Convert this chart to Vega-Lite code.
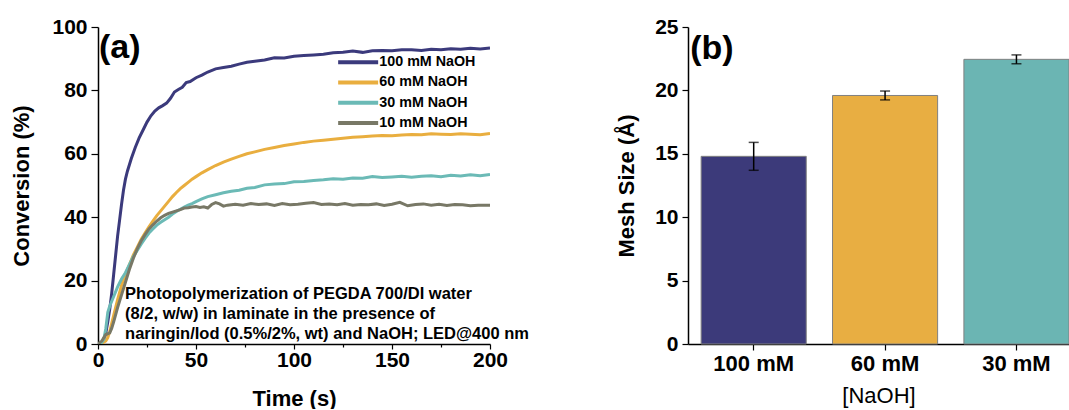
{
  "$schema": "https://vega.github.io/schema/vega-lite/v6.json",
  "background": "white",
  "padding": {"left": 10, "top": 16, "right": 0, "bottom": 0},
  "spacing": 86,
  "config": {
    "font": "Liberation Sans",
    "view": {"stroke": null},
    "axis": {
      "grid": false,
      "domainColor": "black",
      "domainWidth": 1.5,
      "tickColor": "black",
      "tickWidth": 1.2,
      "labelColor": "black",
      "titleColor": "black",
      "labelFont": "Liberation Sans",
      "titleFont": "Liberation Sans",
      "labelFontSize": 21,
      "labelFontWeight": "bold",
      "titleFontSize": 22,
      "titleFontWeight": "bold"
    }
  },
  "datasets": {
    "curves": [
      {"s":"100 mM NaOH","t":0,"v":0},{"s":"100 mM NaOH","t":2,"v":0.3},{"s":"100 mM NaOH","t":3,"v":1.5},{"s":"100 mM NaOH","t":4,"v":3.5},{"s":"100 mM NaOH","t":5,"v":7},{"s":"100 mM NaOH","t":6,"v":11},{"s":"100 mM NaOH","t":7,"v":16},{"s":"100 mM NaOH","t":8,"v":22},{"s":"100 mM NaOH","t":9,"v":28},{"s":"100 mM NaOH","t":10,"v":34},{"s":"100 mM NaOH","t":11,"v":39},{"s":"100 mM NaOH","t":12,"v":44},{"s":"100 mM NaOH","t":13,"v":48.5},{"s":"100 mM NaOH","t":14,"v":52},{"s":"100 mM NaOH","t":15,"v":54.5},{"s":"100 mM NaOH","t":17,"v":58.5},{"s":"100 mM NaOH","t":19,"v":62},{"s":"100 mM NaOH","t":21,"v":65},{"s":"100 mM NaOH","t":23,"v":67.5},{"s":"100 mM NaOH","t":25,"v":70},{"s":"100 mM NaOH","t":27,"v":72},{"s":"100 mM NaOH","t":29,"v":73.5},{"s":"100 mM NaOH","t":31,"v":74.5},{"s":"100 mM NaOH","t":33,"v":75.2},{"s":"100 mM NaOH","t":35,"v":76},{"s":"100 mM NaOH","t":37,"v":77.5},{"s":"100 mM NaOH","t":39,"v":79.5},{"s":"100 mM NaOH","t":41,"v":80.3},{"s":"100 mM NaOH","t":43,"v":81},{"s":"100 mM NaOH","t":45,"v":82.5},{"s":"100 mM NaOH","t":47,"v":82.8},{"s":"100 mM NaOH","t":50,"v":84},{"s":"100 mM NaOH","t":53,"v":84.8},{"s":"100 mM NaOH","t":56,"v":85.8},{"s":"100 mM NaOH","t":60,"v":86.8},{"s":"100 mM NaOH","t":64,"v":87.2},{"s":"100 mM NaOH","t":68,"v":87.6},{"s":"100 mM NaOH","t":72,"v":88.3},{"s":"100 mM NaOH","t":76,"v":88.9},{"s":"100 mM NaOH","t":80,"v":89.2},{"s":"100 mM NaOH","t":85,"v":89.6},{"s":"100 mM NaOH","t":90,"v":90.3},{"s":"100 mM NaOH","t":95,"v":90.2},{"s":"100 mM NaOH","t":100,"v":90.8},{"s":"100 mM NaOH","t":105,"v":91.0},{"s":"100 mM NaOH","t":110,"v":91.2},{"s":"100 mM NaOH","t":115,"v":91.4},{"s":"100 mM NaOH","t":120,"v":91.9},{"s":"100 mM NaOH","t":125,"v":92.0},{"s":"100 mM NaOH","t":130,"v":92.4},{"s":"100 mM NaOH","t":135,"v":92.0},{"s":"100 mM NaOH","t":140,"v":92.5},{"s":"100 mM NaOH","t":145,"v":92.6},{"s":"100 mM NaOH","t":150,"v":92.5},{"s":"100 mM NaOH","t":155,"v":92.8},{"s":"100 mM NaOH","t":160,"v":92.8},{"s":"100 mM NaOH","t":165,"v":92.6},{"s":"100 mM NaOH","t":170,"v":93.0},{"s":"100 mM NaOH","t":175,"v":92.8},{"s":"100 mM NaOH","t":180,"v":93.1},{"s":"100 mM NaOH","t":185,"v":93.0},{"s":"100 mM NaOH","t":190,"v":93.3},{"s":"100 mM NaOH","t":195,"v":93.1},{"s":"100 mM NaOH","t":200,"v":93.4},
      {"s":"60 mM NaOH","t":0,"v":0},{"s":"60 mM NaOH","t":2,"v":0.2},{"s":"60 mM NaOH","t":4,"v":1},{"s":"60 mM NaOH","t":5,"v":2},{"s":"60 mM NaOH","t":6,"v":4},{"s":"60 mM NaOH","t":7,"v":6.5},{"s":"60 mM NaOH","t":8,"v":9},{"s":"60 mM NaOH","t":10,"v":14},{"s":"60 mM NaOH","t":12,"v":18.5},{"s":"60 mM NaOH","t":14,"v":22},{"s":"60 mM NaOH","t":16,"v":25},{"s":"60 mM NaOH","t":18,"v":28},{"s":"60 mM NaOH","t":20,"v":30.5},{"s":"60 mM NaOH","t":22,"v":33},{"s":"60 mM NaOH","t":24,"v":35},{"s":"60 mM NaOH","t":26,"v":37},{"s":"60 mM NaOH","t":28,"v":38.8},{"s":"60 mM NaOH","t":30,"v":40.5},{"s":"60 mM NaOH","t":32,"v":42},{"s":"60 mM NaOH","t":34,"v":43.5},{"s":"60 mM NaOH","t":36,"v":45},{"s":"60 mM NaOH","t":38,"v":46.5},{"s":"60 mM NaOH","t":40,"v":47.8},{"s":"60 mM NaOH","t":42,"v":49},{"s":"60 mM NaOH","t":44,"v":50},{"s":"60 mM NaOH","t":46,"v":51},{"s":"60 mM NaOH","t":48,"v":52},{"s":"60 mM NaOH","t":50,"v":52.8},{"s":"60 mM NaOH","t":53,"v":54},{"s":"60 mM NaOH","t":56,"v":55},{"s":"60 mM NaOH","t":60,"v":56.3},{"s":"60 mM NaOH","t":64,"v":57.4},{"s":"60 mM NaOH","t":68,"v":58.3},{"s":"60 mM NaOH","t":72,"v":59.2},{"s":"60 mM NaOH","t":76,"v":60},{"s":"60 mM NaOH","t":80,"v":60.6},{"s":"60 mM NaOH","t":85,"v":61.4},{"s":"60 mM NaOH","t":90,"v":62},{"s":"60 mM NaOH","t":95,"v":62.6},{"s":"60 mM NaOH","t":100,"v":63.1},{"s":"60 mM NaOH","t":105,"v":63.6},{"s":"60 mM NaOH","t":110,"v":64},{"s":"60 mM NaOH","t":115,"v":64.3},{"s":"60 mM NaOH","t":120,"v":64.6},{"s":"60 mM NaOH","t":125,"v":64.9},{"s":"60 mM NaOH","t":130,"v":65.2},{"s":"60 mM NaOH","t":135,"v":65.4},{"s":"60 mM NaOH","t":140,"v":65.6},{"s":"60 mM NaOH","t":145,"v":65.8},{"s":"60 mM NaOH","t":150,"v":65.7},{"s":"60 mM NaOH","t":155,"v":65.9},{"s":"60 mM NaOH","t":160,"v":66.1},{"s":"60 mM NaOH","t":165,"v":66.0},{"s":"60 mM NaOH","t":170,"v":66.3},{"s":"60 mM NaOH","t":175,"v":66.2},{"s":"60 mM NaOH","t":180,"v":66.1},{"s":"60 mM NaOH","t":185,"v":66.3},{"s":"60 mM NaOH","t":190,"v":66.2},{"s":"60 mM NaOH","t":195,"v":66.0},{"s":"60 mM NaOH","t":200,"v":66.4},
      {"s":"30 mM NaOH","t":0,"v":0},{"s":"30 mM NaOH","t":2,"v":0.5},{"s":"30 mM NaOH","t":3,"v":1.5},{"s":"30 mM NaOH","t":4,"v":5},{"s":"30 mM NaOH","t":5,"v":10},{"s":"30 mM NaOH","t":6,"v":12},{"s":"30 mM NaOH","t":8,"v":15},{"s":"30 mM NaOH","t":10,"v":18},{"s":"30 mM NaOH","t":12,"v":20.5},{"s":"30 mM NaOH","t":14,"v":22.5},{"s":"30 mM NaOH","t":16,"v":25},{"s":"30 mM NaOH","t":18,"v":27.5},{"s":"30 mM NaOH","t":20,"v":29.5},{"s":"30 mM NaOH","t":22,"v":31.5},{"s":"30 mM NaOH","t":24,"v":33.3},{"s":"30 mM NaOH","t":26,"v":35},{"s":"30 mM NaOH","t":28,"v":36.3},{"s":"30 mM NaOH","t":30,"v":37.5},{"s":"30 mM NaOH","t":32,"v":38.4},{"s":"30 mM NaOH","t":34,"v":39.2},{"s":"30 mM NaOH","t":36,"v":40},{"s":"30 mM NaOH","t":38,"v":41},{"s":"30 mM NaOH","t":40,"v":41.8},{"s":"30 mM NaOH","t":42,"v":42.5},{"s":"30 mM NaOH","t":44,"v":43.2},{"s":"30 mM NaOH","t":46,"v":43.8},{"s":"30 mM NaOH","t":48,"v":44.3},{"s":"30 mM NaOH","t":50,"v":44.9},{"s":"30 mM NaOH","t":53,"v":45.8},{"s":"30 mM NaOH","t":56,"v":46.5},{"s":"30 mM NaOH","t":60,"v":47.1},{"s":"30 mM NaOH","t":64,"v":47.7},{"s":"30 mM NaOH","t":68,"v":48.2},{"s":"30 mM NaOH","t":72,"v":48.5},{"s":"30 mM NaOH","t":76,"v":49.1},{"s":"30 mM NaOH","t":80,"v":49.4},{"s":"30 mM NaOH","t":85,"v":50.2},{"s":"30 mM NaOH","t":90,"v":50.5},{"s":"30 mM NaOH","t":95,"v":50.6},{"s":"30 mM NaOH","t":100,"v":51.2},{"s":"30 mM NaOH","t":105,"v":51.3},{"s":"30 mM NaOH","t":110,"v":51.6},{"s":"30 mM NaOH","t":115,"v":51.8},{"s":"30 mM NaOH","t":120,"v":52.1},{"s":"30 mM NaOH","t":125,"v":52.0},{"s":"30 mM NaOH","t":130,"v":52.4},{"s":"30 mM NaOH","t":135,"v":52.3},{"s":"30 mM NaOH","t":140,"v":52.8},{"s":"30 mM NaOH","t":145,"v":52.5},{"s":"30 mM NaOH","t":150,"v":52.7},{"s":"30 mM NaOH","t":155,"v":52.9},{"s":"30 mM NaOH","t":160,"v":52.6},{"s":"30 mM NaOH","t":165,"v":52.9},{"s":"30 mM NaOH","t":170,"v":53.1},{"s":"30 mM NaOH","t":175,"v":52.8},{"s":"30 mM NaOH","t":180,"v":53.2},{"s":"30 mM NaOH","t":185,"v":53.0},{"s":"30 mM NaOH","t":190,"v":53.4},{"s":"30 mM NaOH","t":195,"v":53.1},{"s":"30 mM NaOH","t":200,"v":53.5},
      {"s":"10 mM NaOH","t":0,"v":0},{"s":"10 mM NaOH","t":2,"v":1},{"s":"10 mM NaOH","t":4,"v":3},{"s":"10 mM NaOH","t":6,"v":3.5},{"s":"10 mM NaOH","t":7,"v":5},{"s":"10 mM NaOH","t":8,"v":7},{"s":"10 mM NaOH","t":10,"v":11.5},{"s":"10 mM NaOH","t":12,"v":15.5},{"s":"10 mM NaOH","t":14,"v":19.5},{"s":"10 mM NaOH","t":16,"v":23.5},{"s":"10 mM NaOH","t":18,"v":27},{"s":"10 mM NaOH","t":20,"v":30},{"s":"10 mM NaOH","t":22,"v":32.5},{"s":"10 mM NaOH","t":24,"v":34.5},{"s":"10 mM NaOH","t":26,"v":36.3},{"s":"10 mM NaOH","t":28,"v":37.6},{"s":"10 mM NaOH","t":30,"v":38.8},{"s":"10 mM NaOH","t":32,"v":39.8},{"s":"10 mM NaOH","t":34,"v":40.6},{"s":"10 mM NaOH","t":36,"v":41.2},{"s":"10 mM NaOH","t":38,"v":41.6},{"s":"10 mM NaOH","t":40,"v":42},{"s":"10 mM NaOH","t":42,"v":42.4},{"s":"10 mM NaOH","t":44,"v":42.9},{"s":"10 mM NaOH","t":46,"v":43},{"s":"10 mM NaOH","t":48,"v":43.2},{"s":"10 mM NaOH","t":50,"v":43.4},{"s":"10 mM NaOH","t":52,"v":43.1},{"s":"10 mM NaOH","t":54,"v":43.3},{"s":"10 mM NaOH","t":56,"v":42.9},{"s":"10 mM NaOH","t":58,"v":44},{"s":"10 mM NaOH","t":60,"v":44.6},{"s":"10 mM NaOH","t":62,"v":44.2},{"s":"10 mM NaOH","t":64,"v":43.5},{"s":"10 mM NaOH","t":66,"v":43.8},{"s":"10 mM NaOH","t":70,"v":44.1},{"s":"10 mM NaOH","t":74,"v":43.8},{"s":"10 mM NaOH","t":78,"v":44.3},{"s":"10 mM NaOH","t":82,"v":44},{"s":"10 mM NaOH","t":86,"v":44.2},{"s":"10 mM NaOH","t":90,"v":43.7},{"s":"10 mM NaOH","t":94,"v":44.3},{"s":"10 mM NaOH","t":98,"v":43.9},{"s":"10 mM NaOH","t":102,"v":44.1},{"s":"10 mM NaOH","t":106,"v":44.4},{"s":"10 mM NaOH","t":110,"v":44.6},{"s":"10 mM NaOH","t":114,"v":44.0},{"s":"10 mM NaOH","t":118,"v":44.2},{"s":"10 mM NaOH","t":122,"v":43.9},{"s":"10 mM NaOH","t":126,"v":44.3},{"s":"10 mM NaOH","t":130,"v":43.8},{"s":"10 mM NaOH","t":134,"v":44.0},{"s":"10 mM NaOH","t":138,"v":43.9},{"s":"10 mM NaOH","t":142,"v":44.2},{"s":"10 mM NaOH","t":146,"v":43.7},{"s":"10 mM NaOH","t":150,"v":44.1},{"s":"10 mM NaOH","t":154,"v":44.7},{"s":"10 mM NaOH","t":158,"v":43.6},{"s":"10 mM NaOH","t":162,"v":44.0},{"s":"10 mM NaOH","t":166,"v":44.2},{"s":"10 mM NaOH","t":170,"v":43.8},{"s":"10 mM NaOH","t":174,"v":44.1},{"s":"10 mM NaOH","t":178,"v":43.7},{"s":"10 mM NaOH","t":182,"v":44.0},{"s":"10 mM NaOH","t":186,"v":43.9},{"s":"10 mM NaOH","t":190,"v":43.6},{"s":"10 mM NaOH","t":194,"v":43.8},{"s":"10 mM NaOH","t":200,"v":43.8}
    ],
    "note": [
      {"t": 13.8, "v": 15.8, "txt": "Photopolymerization of PEGDA 700/DI water"},
      {"t": 13.8, "v": 9.5, "txt": "(8/2, w/w) in laminate in the presence of"},
      {"t": 13.8, "v": 3.2, "txt": "naringin/Iod (0.5%/2%, wt) and NaOH; LED@400 nm"}
    ],
    "panelA": [{"t": 0.5, "v": 93.3, "txt": "(a)"}],
    "bars": [
      {"c": "100 mM", "m": 14.8, "lo": 13.7, "hi": 15.9},
      {"c": "60 mM", "m": 19.6, "lo": 19.25, "hi": 19.95},
      {"c": "30 mM", "m": 22.45, "lo": 22.1, "hi": 22.8}
    ],
    "panelB": [{"c": "100 mM", "m": 23.3, "txt": "(b)"}]
  },
  "resolve": {"scale": {"color": "independent"}, "legend": {"color": "independent"}},
  "hconcat": [
    {
      "width": 392,
      "height": 317,
      "layer": [
        {
          "data": {"name": "curves"},
          "mark": {"type": "line", "strokeWidth": 3, "clip": true},
          "encoding": {
            "x": {
              "field": "t", "type": "quantitative",
              "scale": {"domain": [0, 200], "nice": false},
              "axis": {
                "title": "Time (s)",
                "values": [0, 25, 50, 75, 100, 125, 150, 175, 200],
                "labelExpr": "datum.value % 50 === 0 ? datum.label : ''",
                "tickSize": {"condition": {"test": "datum.value % 50 === 0", "value": 5}, "value": 3},
                "labelPadding": 0,
                "titlePadding": 18,
                "labelFlush": false
              }
            },
            "y": {
              "field": "v", "type": "quantitative",
              "scale": {"domain": [0, 100], "nice": false},
              "axis": {
                "title": "Conversion (%)",
                "values": [0, 10, 20, 30, 40, 50, 60, 70, 80, 90, 100],
                "labelExpr": "datum.value % 20 === 0 ? datum.label : ''",
                "tickSize": {"condition": {"test": "datum.value % 20 === 0", "value": 7}, "value": 4},
                "labelPadding": 4,
                "titlePadding": 18,
                "labelFlush": false
              }
            },
            "color": {
              "field": "s", "type": "nominal",
              "scale": {
                "domain": ["100 mM NaOH", "60 mM NaOH", "30 mM NaOH", "10 mM NaOH"],
                "range": ["#3b3a7c", "#e9ae3f", "#6bbab6", "#787866"]
              },
              "legend": {
                "title": null,
                "orient": "none",
                "legendX": 253,
                "legendY": 28,
                "padding": 0,
                "symbolType": "M-5,0H5",
                "symbolSize": 64,
                "symbolStrokeWidth": 4,
                "labelFontSize": 14.3,
                "labelFontWeight": "bold",
                "labelColor": "black",
                "labelFont": "Liberation Sans",
                "labelOffset": 14,
                "rowPadding": 3.3
              }
            }
          }
        },
        {
          "data": {"name": "note"},
          "mark": {"type": "text", "align": "left", "baseline": "middle", "fontSize": 16.5, "fontWeight": "bold", "color": "black"},
          "encoding": {
            "x": {"field": "t", "type": "quantitative"},
            "y": {"field": "v", "type": "quantitative"},
            "text": {"field": "txt"}
          }
        },
        {
          "data": {"name": "panelA"},
          "mark": {"type": "text", "align": "left", "baseline": "middle", "fontSize": 34, "fontWeight": "bold", "color": "black"},
          "encoding": {
            "x": {"field": "t", "type": "quantitative"},
            "y": {"field": "v", "type": "quantitative"},
            "text": {"field": "txt"}
          }
        }
      ]
    },
    {
      "width": 381,
      "height": 317,
      "layer": [
        {
          "data": {"name": "bars"},
          "mark": {"type": "bar", "stroke": "#808080", "strokeWidth": 1},
          "encoding": {
            "x": {
              "field": "c", "type": "nominal",
              "sort": ["100 mM", "60 mM", "30 mM"],
              "scale": {"paddingInner": 0.2, "paddingOuter": 0.05, "align": 1},
              "axis": {
                "title": "[NaOH]",
                "titleFontWeight": "normal",
                "labelFontSize": 22,
                "labelAngle": 0,
                "tickSize": 6,
                "labelPadding": 3,
                "titlePadding": 11
              }
            },
            "y": {
              "field": "m", "type": "quantitative",
              "scale": {"domain": [0, 25], "nice": false},
              "axis": {
                "title": "Mesh Size (Å)",
                "values": [0, 2.5, 5, 7.5, 10, 12.5, 15, 17.5, 20, 22.5, 25],
                "labelExpr": "datum.value % 5 === 0 ? datum.label : ''",
                "tickSize": {"condition": {"test": "datum.value % 5 === 0", "value": 6}, "value": 3},
                "labelPadding": 4,
                "titlePadding": 16,
                "labelFlush": false
              }
            },
            "color": {
              "field": "c", "type": "nominal",
              "scale": {"domain": ["100 mM", "60 mM", "30 mM"], "range": ["#3c3a7a", "#e8ae42", "#6bb5b3"]},
              "legend": null
            }
          }
        },
        {
          "data": {"name": "bars"},
          "mark": {"type": "errorbar", "color": "black", "ticks": {"size": 10, "thickness": 1.5}, "rule": {"strokeWidth": 1.5}},
          "encoding": {
            "x": {"field": "c", "type": "nominal", "sort": ["100 mM", "60 mM", "30 mM"]},
            "y": {"field": "lo", "type": "quantitative", "title": "Mesh Size (Å)"},
            "y2": {"field": "hi"}
          }
        },
        {
          "data": {"name": "panelB"},
          "mark": {"type": "text", "align": "left", "baseline": "middle", "fontSize": 34, "fontWeight": "bold", "color": "black", "dx": -11},
          "encoding": {
            "x": {"field": "c", "type": "nominal", "sort": ["100 mM", "60 mM", "30 mM"], "bandPosition": 0},
            "y": {"field": "m", "type": "quantitative", "title": "Mesh Size (Å)"},
            "text": {"field": "txt"}
          }
        }
      ]
    }
  ]
}
